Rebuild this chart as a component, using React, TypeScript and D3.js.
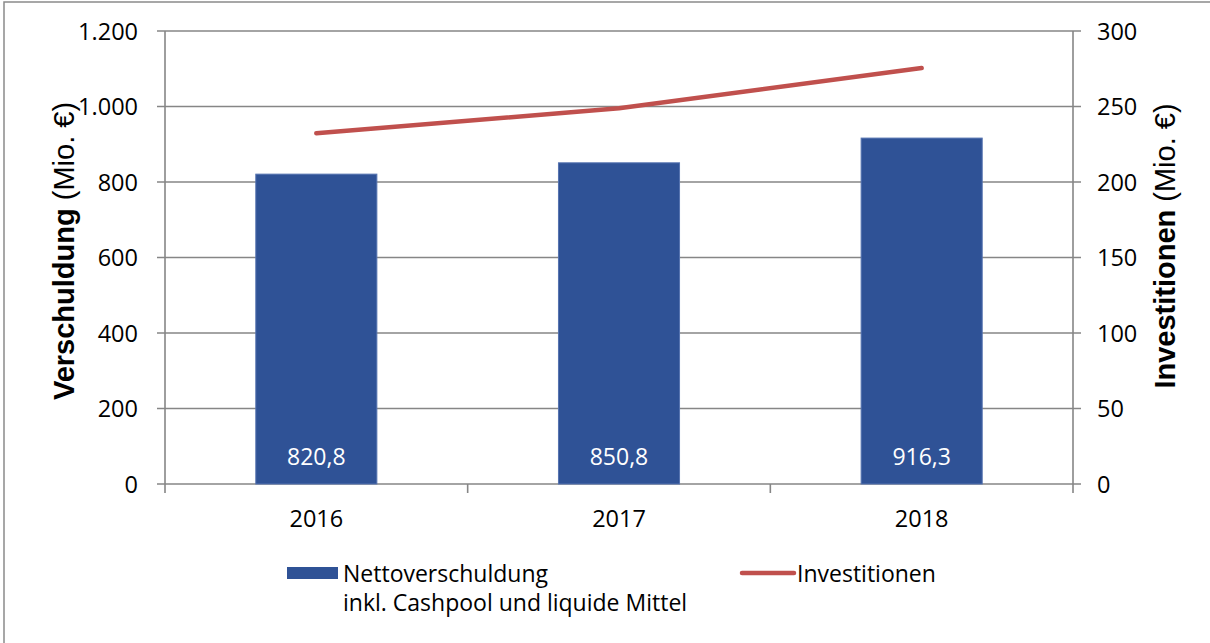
import React from "react";
import * as d3 from "d3";

const categories = ["2016", "2017", "2018"];
const debtValues = [820.8, 850.8, 916.3];
const debtLabels = ["820,8", "850,8", "916,3"];
const investValues = [232.3, 248.8, 275.5];
const leftTicks = [0, 200, 400, 600, 800, 1000, 1200];
const rightTicks = [0, 50, 100, 150, 200, 250, 300];
const fmtLeft = (v: number) => d3.format(",")(v).replace(/,/g, ".");

const W = 1210;
const H = 643;
const M = { left: 165, right: 1073, top: 31, bottom: 484 };
const GRID = "#868686";
const BAR = "#2F5296";
const LINE = "#C0504D";
const TICKFONT = "'Open Sans', 'Noto Sans', sans-serif";
const TITLEFONT = "'Liberation Sans', Arial, sans-serif";

export default function App() {
  const x = d3.scaleBand<string>().domain(categories).range([M.left, M.right]).paddingInner(0).paddingOuter(0);
  const yL = d3.scaleLinear().domain([0, 1200]).range([M.bottom, M.top]);
  const yR = d3.scaleLinear().domain([0, 300]).range([M.bottom, M.top]);
  const bw = x.bandwidth() * 0.4;
  const cx = (c: string) => (x(c) as number) + x.bandwidth() / 2;
  const line = d3
    .line<number>()
    .x((_, i) => cx(categories[i]))
    .y((d) => yR(d));
  const boundaries = [M.left, ...categories.slice(1).map((c) => x(c) as number), M.right];

  return (
    <svg width={W} height={H} style={{ position: "absolute", left: 0, top: 0, background: "#fff" }}>
      <rect x={4} y={2} width={1400} height={900} fill="#fff" stroke="#8a8a8a" strokeWidth={1.5} />
      {/* gridlines */}
      {leftTicks.map((t) => (
        <line key={"g" + t} x1={M.left - 8} x2={M.right + 8} y1={yL(t)} y2={yL(t)} stroke={GRID} strokeWidth={1.6} />
      ))}
      {/* axes */}
      <line x1={M.left} x2={M.left} y1={M.top} y2={M.bottom + 9} stroke={GRID} strokeWidth={1.6} />
      <line x1={M.right} x2={M.right} y1={M.top} y2={M.bottom + 9} stroke={GRID} strokeWidth={1.6} />
      {boundaries.slice(1, -1).map((b, i) => (
        <line key={"ct" + i} x1={b} x2={b} y1={M.bottom} y2={M.bottom + 9} stroke={GRID} strokeWidth={1.6} />
      ))}
      {/* bars */}
      {categories.map((c, i) => (
        <rect
          key={"b" + c}
          x={cx(c) - bw / 2}
          y={yL(debtValues[i])}
          width={bw}
          height={yL(0) - yL(debtValues[i])}
          fill={BAR}
          stroke="#5573b0"
          strokeWidth={1}
        />
      ))}
      {categories.map((c, i) => (
        <text
          key={"l" + c}
          x={cx(c)}
          y={465}
          textAnchor="middle"
          fill="#fff"
          fontFamily={TICKFONT}
          fontSize={23}
        >
          {debtLabels[i]}
        </text>
      ))}
      {/* line */}
      <path d={line(investValues) || ""} fill="none" stroke={LINE} strokeWidth={4.5} strokeLinecap="round" strokeLinejoin="round" />
      {/* tick labels */}
      {leftTicks.map((t) => (
        <text key={"lt" + t} x={138} y={yL(t) + 8.5} textAnchor="end" fontFamily={TICKFONT} fontSize={23.5} fill="#000">
          {fmtLeft(t)}
        </text>
      ))}
      {rightTicks.map((t) => (
        <text key={"rt" + t} x={1097} y={yR(t) + 8.5} textAnchor="start" fontFamily={TICKFONT} fontSize={23.5} fill="#000">
          {t}
        </text>
      ))}
      {categories.map((c) => (
        <text key={"c" + c} x={cx(c)} y={527} textAnchor="middle" fontFamily={TICKFONT} fontSize={23.5} fill="#000">
          {c}
        </text>
      ))}
      {/* axis titles */}
      <text
        transform={`translate(74, 251) rotate(-90)`}
        textAnchor="middle"
        fontFamily={TITLEFONT}
        fontSize={29}
        fill="#000"
      >
        <tspan fontWeight="bold">Verschuldung</tspan>
        <tspan> (Mio. €)</tspan>
      </text>
      <text
        transform={`translate(1175, 246) rotate(-90)`}
        textAnchor="middle"
        fontFamily={TITLEFONT}
        fontSize={29}
        fill="#000"
      >
        <tspan fontWeight="bold">Investitionen</tspan>
        <tspan> (Mio. €)</tspan>
      </text>
      {/* legend */}
      <rect x={287} y={567} width={51} height={12} fill={BAR} />
      <text x={343} y={582} fontFamily={TICKFONT} fontSize={23} fill="#000">
        Nettoverschuldung
      </text>
      <text x={343} y={611} fontFamily={TICKFONT} fontSize={23} fill="#000">
        inkl. Cashpool und liquide Mittel
      </text>
      <line x1={742} x2={794} y1={573} y2={573} stroke={LINE} strokeWidth={4.5} strokeLinecap="round" />
      <text x={797} y={582} fontFamily={TICKFONT} fontSize={23} fill="#000">
        Investitionen
      </text>
    </svg>
  );
}
